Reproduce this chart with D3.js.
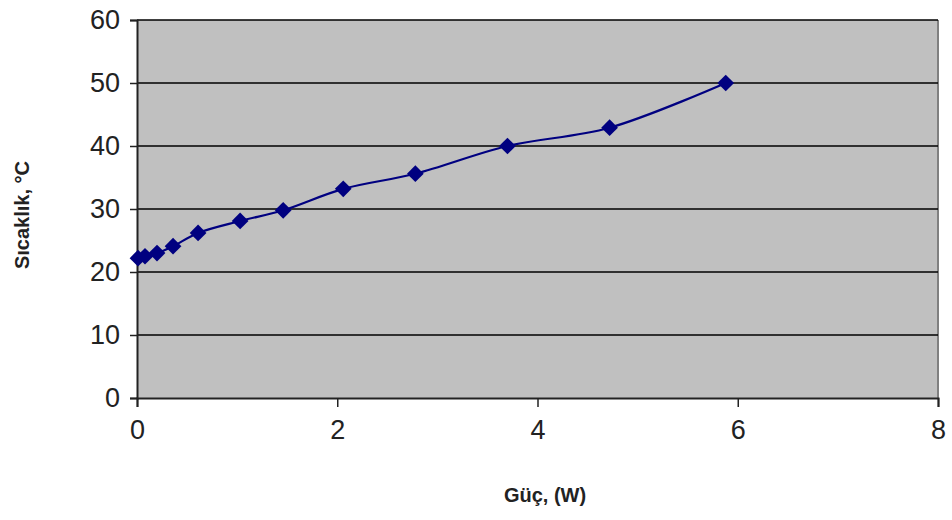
<!DOCTYPE html>
<html>
<head>
<style>
    body { margin: 0; background: #fff; }
    text { font-family: "Liberation Sans", Arial, sans-serif; }
</style>
</head>
<body>
<svg id="chart" width="952" height="520"></svg>
<script src="https://d3js.org/d3.v7.min.js"></script>
<script>
    // Güç (W) vs Sıcaklık (°C)
    let power = [0.01, 0.08, 0.2, 0.36, 0.61, 1.03, 1.46, 2.06, 2.78, 3.70, 4.72, 5.88];
    let temp = [22.2, 22.5, 23.0, 24.1, 26.2, 28.1, 29.8, 33.2, 35.6, 40.0, 42.9, 50.0];
    let xTicks = [0, 2, 4, 6, 8];
    let yTicks = [0, 10, 20, 30, 40, 50, 60];

    let svg = d3.select("#chart");
    let plotL = 137, plotR = 938, plotT = 20, plotB = 398;

    let x = d3.scaleLinear().domain([0, 8]).range([plotL, plotR]);
    let y = d3.scaleLinear().domain([0, 60]).range([plotB, plotT]);

    // plot area
    svg.append("rect")
        .attr("x", plotL).attr("y", plotT)
        .attr("width", plotR - plotL).attr("height", plotB - plotT)
        .attr("fill", "#c0c0c0");
    svg.append("line")
        .attr("x1", plotR).attr("x2", plotR)
        .attr("y1", plotT).attr("y2", plotB)
        .attr("stroke", "#808080").attr("stroke-width", 2);

    // gridlines
    svg.selectAll("line.grid")
        .data(yTicks.slice(1))
        .enter().append("line")
        .attr("class", "grid")
        .attr("x1", plotL).attr("x2", plotR)
        .attr("y1", d => y(d)).attr("y2", d => y(d))
        .attr("stroke", "#000").attr("stroke-width", 1.5);

    let yAxis = svg.append("g")
        .attr("transform", "translate(" + plotL + ",0)")
        .call(d3.axisLeft(y).tickValues(yTicks).tickSize(7).tickPadding(10));
    let xAxis = svg.append("g")
        .attr("transform", "translate(0," + plotB + ")")
        .call(d3.axisBottom(x).tickValues(xTicks).tickSize(9).tickPadding(13));

    [xAxis, yAxis].forEach(function (g) {
        g.select(".domain").attr("stroke", "#222").attr("stroke-width", 2);
        g.selectAll(".tick line").attr("stroke", "#222").attr("stroke-width", 1.5);
        g.selectAll(".tick text")
            .attr("font-size", 27)
            .attr("fill", "#222")
            .style("font-family", "Liberation Sans, Arial, sans-serif");
    });

    // smoothed line
    let pts = power.map((p, i) => [p, temp[i]]);
    let line = d3.line()
        .x(d => x(d[0]))
        .y(d => y(d[1]))
        .curve(d3.curveCatmullRom.alpha(0.5));
    svg.append("path")
        .attr("d", line(pts))
        .attr("fill", "none")
        .attr("stroke", "#000080")
        .attr("stroke-width", 2.2);

    // diamond markers
    let marker = d3.symbol().type(d3.symbolSquare).size(140);
    svg.selectAll("path.pt")
        .data(pts)
        .enter().append("path")
        .attr("class", "pt")
        .attr("d", marker)
        .attr("transform", d => "translate(" + x(d[0]) + "," + y(d[1]) + ") rotate(45)")
        .attr("fill", "#000080");

    // axis titles
    svg.append("text")
        .attr("x", 545).attr("y", 502)
        .attr("text-anchor", "middle")
        .attr("font-size", 20).attr("font-weight", "bold")
        .attr("fill", "#222")
        .text("Güç, (W)");
    svg.append("text")
        .attr("transform", "translate(29,215) rotate(-90)")
        .attr("text-anchor", "middle")
        .attr("font-size", 20).attr("font-weight", "bold")
        .attr("fill", "#222")
        .text("Sıcaklık, °C");
</script>
</body>
</html>
